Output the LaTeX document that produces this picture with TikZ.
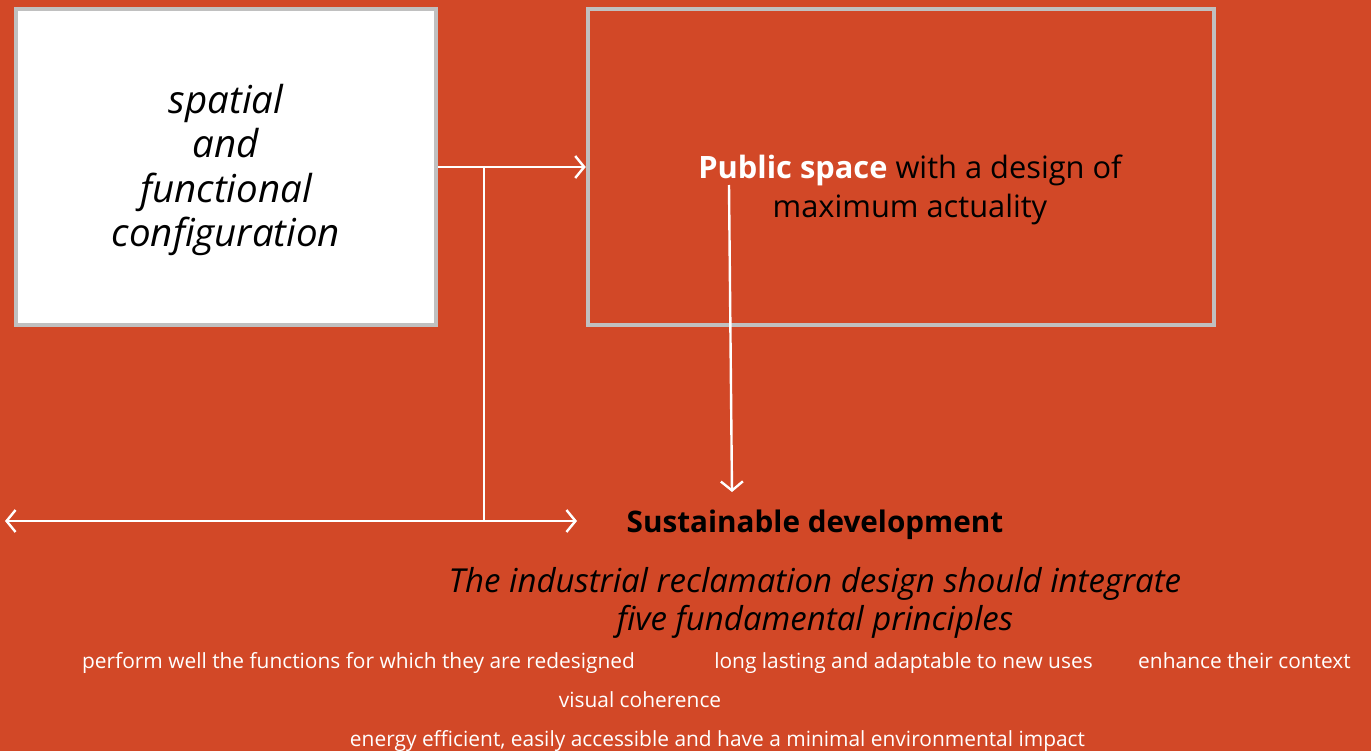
\documentclass[tikz,border=0pt]{standalone}
\usepackage{fontspec}
\setmainfont{Open Sans}
\usetikzlibrary{arrows.meta}
\definecolor{bgred}{RGB}{210,72,39}
\definecolor{boxgray}{RGB}{192,192,192}
\tikzset{
  conn/.style={draw=white, line width=2.4pt},
  arr/.style={conn, -{Straight Barb[length=9pt,width=22pt,line width=2.4pt]}},
  darr/.style={conn, {Straight Barb[length=9pt,width=22pt,line width=2.4pt]}-{Straight Barb[length=9pt,width=22pt,line width=2.4pt]}},
  box/.style={draw=boxgray, line width=4.5pt, minimum width=420pt, minimum height=316pt, inner sep=0pt},
  small/.style={text=white, font=\fontsize{20.9}{22}\selectfont, anchor=base, inner sep=0pt},
}
\begin{document}
\begin{tikzpicture}[x=1pt,y=-1pt]
\fill[bgred] (0,0) rectangle (1371,751);
\useasboundingbox (0,0) rectangle (1371,751);
% boxes
\node[box, fill=white] (L) at (226,167) {};
\node[box, minimum width=626pt] (R) at (901,167) {};
\node[align=center, font=\fontsize{38.5}{44.5}\selectfont\itshape, inner sep=0pt] (LT) at (226,170) {spatial\\and\\functional\\configuration};
\node[align=center, font=\fontsize{30.8}{39}\selectfont, inner sep=0pt] (RT) at (910,190) {\textcolor{white}{\bfseries Public space} with a design of\\maximum actuality};
% connectors
\coordinate (J) at (484,167);
\coordinate (J2) at (484,521);
\coordinate (DL) at (5,521);
\coordinate (DR) at (577,521);
\coordinate (A1) at (729,185);
\coordinate (A2) at (732,492);
\draw[arr] (L.east) -- (R.west);
\draw[conn, line width=2pt] (J) -- (J2);
\draw[darr] (DL) -- (DR);
\draw[arr] (A1) -- (A2);
% texts
\node[font=\fontsize{29.7}{34}\selectfont\bfseries, anchor=base, inner sep=0pt] (SD) at (815,532) {Sustainable development};
\node[align=center, font=\fontsize{33}{38}\selectfont\itshape, anchor=north, inner sep=0pt] (PR) at (815,567) {The industrial reclamation design should integrate\\five fundamental principles};
\node[small] (P1) at (358.5,668) {perform well the functions for which they are redesigned};
\node[small] (P2) at (903.5,668) {long lasting and adaptable to new uses};
\node[small] (P3) at (1244.5,668) {enhance their context};
\node[small] (P4) at (640,707) {visual coherence};
\node[small] (P5) at (717.5,746) {energy efficient, easily accessible and have a minimal environmental impact};
\end{tikzpicture}
\end{document}
